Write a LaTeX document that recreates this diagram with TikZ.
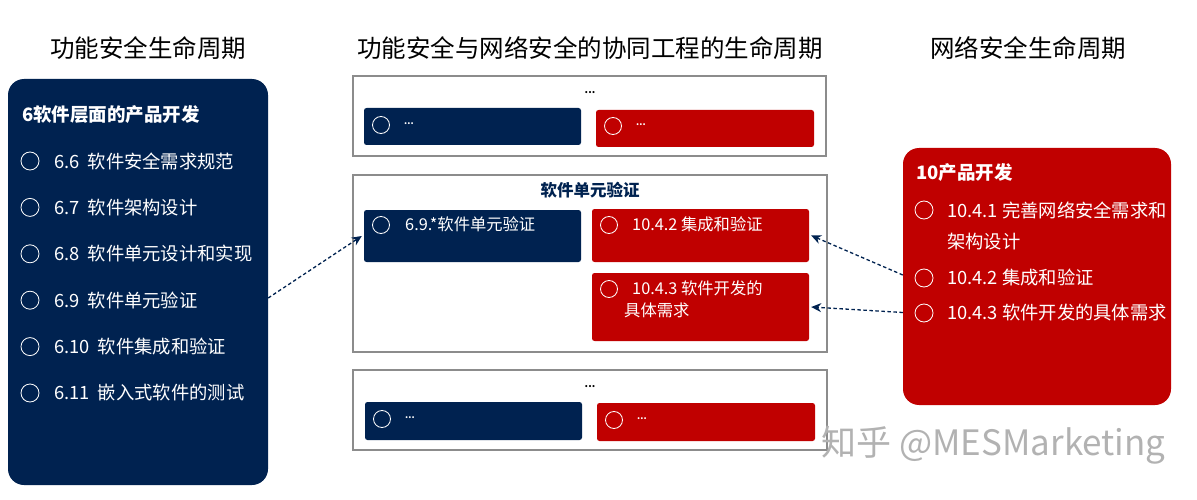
\documentclass[tikz,border=0pt]{standalone}
\usepackage{fontspec}
\setmainfont{Noto Sans CJK SC}
\usetikzlibrary{positioning,arrows.meta}
\definecolor{navy}{RGB}{0,34,80}
\definecolor{cred}{RGB}{192,0,0}
\tikzset{
  panel/.style={fill=#1, rounded corners=16pt, inner sep=0pt},
  frame/.style={draw=black!45, line width=1.2pt, inner sep=0pt},
  tile/.style={fill=#1, rounded corners=2.5pt, inner sep=0pt},
  ring/.style={circle, draw=white, line width=0.8pt, minimum size=#1, inner sep=0pt},
  ring/.default=18pt,
  item/.style={anchor=west, text=white, inner sep=0pt, font=\fontsize{18.3}{21}\selectfont},
  smallitem/.style={anchor=west, text=white, inner sep=0pt, font=\fontsize{16.3}{19}\selectfont},
  head/.style={font=\fontsize{24.5}{28}\selectfont, inner sep=0pt},
  link/.style={-{Stealth[length=10pt,width=9pt]}, navy, line width=1.3pt, dash pattern=on 3.5pt off 2.5pt}
}
\begin{document}
\begin{tikzpicture}[x=1pt, y=-1pt]
\useasboundingbox (0,0) rectangle (1197,500);
% titles
\node[head] (tleft) at (148,48) {功能安全生命周期};
\node[head] (tmid) at (590,48) {功能安全与网络安全的协同工程的生命周期};
\node[head] (tright) at (1028,48) {网络安全生命周期};

% left panel
\node[panel=navy, minimum width=260, minimum height=406] (lpanel) at (138,282) {};
\node[item, font=\bfseries\fontsize{18.5}{21}\selectfont] (ltitle) at (22,115) {6软件层面的产品开发};
\foreach \t [count=\i] in {6.6\ \ 软件安全需求规范, 6.7\ \ 软件架构设计, 6.8\ \ 软件单元设计和实现,
                          6.9\ \ 软件单元验证, 6.10\ \ 软件集成和验证, 6.11\ \ 嵌入式软件的测试} {
  \node[ring] (lr\i) at (30,{161+46.4*(\i-1)}) {};
  \node[item] (lt\i) at (54,{161+46.4*(\i-1)}) {\t};
}

% middle frames
\node[frame, minimum width=473, minimum height=80] (mtop) at (589.5,116) {};
\node[font=\bfseries] at (590,93) {...};
\node[tile=navy, minimum width=217, minimum height=37] (topL) at (472.5,126.5) {};
\node[tile=cred, minimum width=218, minimum height=37] (topR) at (705,128.5) {};
\node[ring=17pt] at (381,125) {};
\node[smallitem, font=\bfseries\small] at (404,124) {...};
\node[ring=17pt] at (613,126) {};
\node[smallitem, font=\bfseries\small] at (636,125) {...};

\node[frame, minimum width=474, minimum height=177] (mmid) at (590,263.5) {};
\node[font=\bfseries\fontsize{16.5}{19}\selectfont, text=navy] (mtitle) at (590,190) {软件单元验证};
\node[tile=navy, minimum width=217, minimum height=52] (midL) at (472.5,236) {};
\node[tile=cred, minimum width=217, minimum height=53] (midR1) at (700.5,235.5) {};
\node[tile=cred, minimum width=217, minimum height=68] (midR2) at (700.5,307) {};
\node[ring=17pt] at (381,225) {};
\node[smallitem] at (405,224) {6.9.*软件单元验证};
\node[ring=17pt] at (609,225) {};
\node[smallitem] at (632,224) {10.4.2 集成和验证};
\node[ring=17pt] at (609,289) {};
\node[smallitem] at (632,288) {10.4.3 软件开发的};
\node[smallitem] at (624,310) {具体需求};

\node[frame, minimum width=474, minimum height=80] (mbot) at (590,410) {};
\node[font=\bfseries] at (590,387) {...};
\node[tile=navy, minimum width=217, minimum height=38] (botL) at (473.5,421) {};
\node[tile=cred, minimum width=218, minimum height=38] (botR) at (706,422) {};
\node[ring=17pt] at (382,419) {};
\node[smallitem, font=\bfseries\small] at (405,418) {...};
\node[ring=17pt] at (614,420) {};
\node[smallitem, font=\bfseries\small] at (637,419) {...};

% right panel
\node[panel=cred, minimum width=268, minimum height=257] (rpanel) at (1037,276.5) {};
\node[item, font=\bfseries\fontsize{18.5}{21}\selectfont] (rtitle) at (916,173) {10产品开发};
\node[ring] (rr1) at (924,210) {};
\node[item] (rt1) at (947,210) {10.4.1\ 完善网络安全需求和};
\node[item] (rt1b) at (947,242) {架构设计};
\node[ring] (rr2) at (924,278) {};
\node[item] (rt2) at (947,278) {10.4.2\ 集成和验证};
\node[ring] (rr3) at (924,313) {};
\node[item] (rt3) at (947,313) {10.4.3\ 软件开发的具体需求};

% links
\draw[link] ([yshift=-16pt]lpanel.east) -- ([xshift=-2pt]midL.west);
\draw[link] ([yshift=1.5pt]rpanel.west) -- ([xshift=2pt]midR1.east);
\draw[link] ([yshift=-36pt]rpanel.west) -- ([xshift=2pt]midR2.east);

% watermark
\node[anchor=west, text=black!30, font=\fontsize{35}{38}\selectfont] (mark) at (818,445) {知乎 @MESMarketing};
\end{tikzpicture}
\end{document}
